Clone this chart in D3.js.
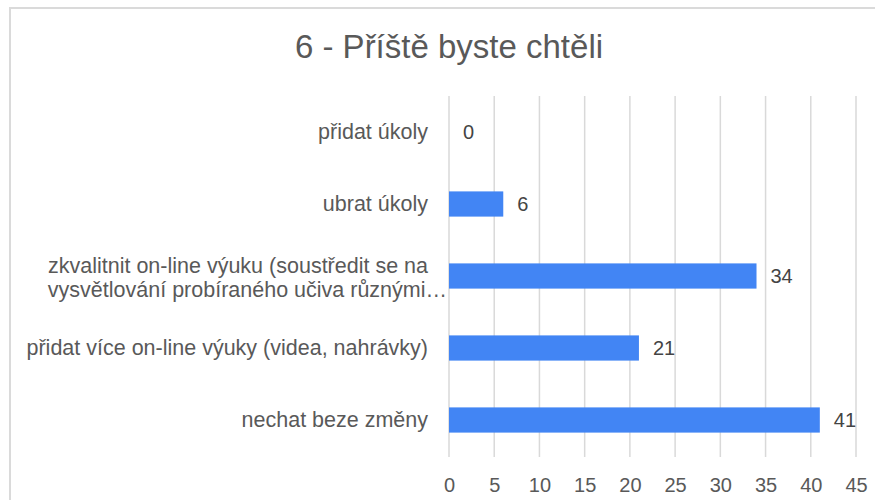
<!DOCTYPE html>
<html>
<head>
<meta charset="utf-8">
<script src="https://cdn.jsdelivr.net/npm/d3@7"></script>
<style>
  body { margin: 0; background: #fff; }
  svg { display: block; font-family: 'Liberation Sans', Arial, sans-serif; }
</style>
</head>
<body>
<svg width="875" height="500"></svg>
<script>
var title = '6 - Příště byste chtěli';
var categories = [
  'přidat úkoly',
  'ubrat úkoly',
  'zkvalitnit on-line výuku (soustředit se na vysvětlování probíraného učiva různými…',
  'přidat více on-line výuky (videa, nahrávky)',
  'nechat beze změny'
];
// wrapped lines as shown in the picture
var categoryLines = [
  ['přidat úkoly'],
  ['ubrat úkoly'],
  ['zkvalitnit on-line výuku (soustředit se na', 'vysvětlování probíraného učiva různými…'],
  ['přidat více on-line výuky (videa, nahrávky)'],
  ['nechat beze změny']
];
var values = [0, 6, 34, 21, 41];
var ticks = [0, 5, 10, 15, 20, 25, 30, 35, 40, 45];

var svg = d3.select('svg'),
  margin = {top: 96, right: 19, bottom: 44, left: 449},
  width = svg.attr('width') - margin.left - margin.right,
  height = svg.attr('height') - margin.top - margin.bottom;

// chart frame
svg.append('rect')
  .attr('x', 10).attr('y', 8)
  .attr('width', 900).attr('height', 520)
  .attr('fill', 'none')
  .attr('stroke', '#dadada')
  .attr('stroke-width', 2);

svg.append('text')
  .attr('x', 449)
  .attr('y', 58)
  .attr('text-anchor', 'middle')
  .attr('fill', '#595959')
  .style('font-size', '33px')
  .text(title);

var g = svg.append('g')
  .attr('transform', 'translate(' + margin.left + ',' + margin.top + ')');

var x = d3.scaleLinear().domain([0, 45]).range([0, width]);
var y = d3.scaleBand().domain(categories).range([0, height]).paddingInner(0.65).paddingOuter(0.325);

// vertical grid
g.append('g')
  .selectAll('line')
  .data(ticks)
  .enter()
  .append('line')
  .attr('x1', d => x(d)).attr('x2', d => x(d))
  .attr('y1', 0).attr('y2', height + 1)
  .attr('stroke', '#d9d9d9')
  .attr('stroke-width', 1.5);

var xAxis = g.append('g')
  .attr('transform', 'translate(0,' + height + ')')
  .call(d3.axisBottom(x).tickValues(ticks).tickSize(0).tickPadding(22));
xAxis.select('.domain').remove();
xAxis.selectAll('text')
  .attr('fill', '#595959')
  .style('font-size', '20px')
  .style('font-family', "'Liberation Sans', Arial, sans-serif");

g.selectAll('.bar')
  .data(values)
  .enter()
  .append('rect')
  .attr('class', 'bar')
  .attr('x', x(0))
  .attr('y', (d, i) => y(categories[i]))
  .attr('width', d => x(d) - x(0))
  .attr('height', y.bandwidth())
  .attr('fill', '#4285f4');

g.selectAll('.val')
  .data(values)
  .enter()
  .append('text')
  .attr('class', 'val')
  .attr('x', d => x(d) + 14)
  .attr('y', (d, i) => y(categories[i]) + y.bandwidth() / 2)
  .attr('dy', '0.36em')
  .attr('fill', '#444')
  .style('font-size', '20px')
  .text(d => d);

var labels = g.selectAll('.cat')
  .data(categoryLines)
  .enter()
  .append('text')
  .attr('class', 'cat')
  .attr('text-anchor', 'end')
  .attr('fill', '#595959')
  .style('font-size', '21.5px')
  .attr('transform', (d, i) => 'translate(-19,' + (y(categories[i]) + y.bandwidth() / 2) + ')');

// the truncated second line runs a little past the label column, as in the original
labels.selectAll('tspan')
  .data(d => d.map((t, j) => ({t: t, j: j, n: d.length})))
  .enter()
  .append('tspan')
  .attr('x', d => (d.n > 1 && d.j === d.n - 1 ? 17 : -2))
  .attr('y', d => (d.n > 1 ? (d.j === 0 ? -3 : 21) : 7))
  .text(d => d.t);
</script>
</body>
</html>
